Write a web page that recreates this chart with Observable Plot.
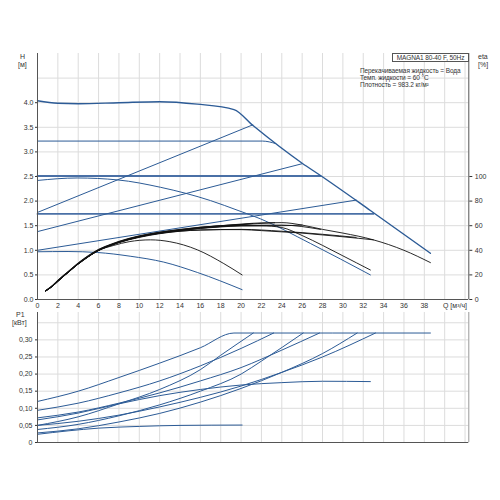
<!DOCTYPE html>
<html><head><meta charset="utf-8">
<script src="https://cdn.jsdelivr.net/npm/d3@7"></script>
<script src="https://cdn.jsdelivr.net/npm/@observablehq/plot@0.6"></script>
<style>
body{margin:0;background:#fff;}
#wrap{position:relative;width:500px;height:500px;font-family:"Liberation Sans",Arial,sans-serif;color:#333;}
#wrap svg{position:absolute;left:0;}
.lbl{position:absolute;font-size:7px;line-height:8px;white-space:nowrap;}
.sm{font-size:6.5px;letter-spacing:-0.1px;}
</style></head><body><div id="wrap"></div>
<script>
// ---- tick labels / grids ----
const qTickLabels = [0,2,4,6,8,10,12,14,16,18,20,22,24,26,28,30,32,34,36,38];
const qGrid = [2,4,6,8,10,12,14,16,18,20,22,24,26,28,30,32,34,36,38,40,42];
const hTicks = [0,0.5,1,1.5,2,2.5,3,3.5,4];
const hGrid = [0.5,1,1.5,2,2.5,3,3.5,4,4.5];
const etaTicks = [0,20,40,60,80,100];
const pTicks = [0,0.05,0.10,0.15,0.20,0.25,0.30];
const pGrid = [0.05,0.10,0.15,0.20,0.25,0.30,0.35];

// ---- Q-H curves (Q m3/h, H m) ----
const hMax = [[0,4.04],[2,3.99],[4,3.98],[8,4.0],[12,4.02],[15.7,3.97],[19.3,3.86],[21.2,3.53],[26,2.77],[27.8,2.52],[32.7,1.81],[38.6,0.94]];
const hConst322 = [[0,3.22],[22.1,3.22],[23.4,3.17]];
const hConst25 = [[0,2.51],[27.8,2.51]];
const hConst175 = [[0,1.74],[33,1.74]];
const hProp1 = [[0,1.77],[21.15,3.55]];
const hProp2 = [[0,1.38],[26,2.76]];
const hProp3 = [[0,1.0],[31.3,2.02]];
const hCurve1 = [[0,2.42],[3.9,2.47],[7.9,2.43],[12.1,2.28],[17,2.01],[19.7,1.81],[21.9,1.64],[26.8,1.14],[32.7,0.5]];
const hCurve0 = [[0,0.97],[3,0.975],[5.9,0.955],[9.1,0.88],[12.4,0.76],[15.7,0.55],[20.1,0.2]];

// ---- efficiency curves (Q, eta %) ----
const etaMax = [[0.8,7],[1.5,11.5],[2,15.5],[3,22.5],[4,29.5],[5,35.5],[6,40.5],[7,44],[8,47],[10,51.5],[12,54.5],[14,56.5],[16,58.5],[18,60],[20,61.3],[22,62.3],[24,62.5],[26,60.5],[28,57],[30,54],[33,48.5],[36,40],[38.6,30]];
const etaC1 = [[0.8,7],[1.5,11],[2,15],[3,22],[4,29],[5,35],[6,40],[7,43.5],[8,46.5],[10,51],[12,54],[14,56],[16,58],[18,59.3],[20,60],[22,60],[24,58.5],[26,52],[28,44],[30,35.5],[32.7,24]];
const etaC322 = [[0.8,7.3],[1.5,11.8],[2,15.8],[3,22.8],[4,29.8],[5,35.8],[6,40.8],[7,44.3],[8,47.3],[10,51.8],[12,54.8],[14,57],[16,58.8],[18,60],[20,61],[23.3,62.4]];
const etaP1 = [[0.8,6.8],[1.5,11],[2,15],[3,22],[4,29],[5,35],[6,40],[7,43.8],[8,46.8],[10,51.3],[12,54.5],[14,56.8],[16,58.7],[18,60],[20,60.8],[21.15,61.8]];
const etaC25 = [[0.8,7],[1.5,11.2],[2,15.2],[3,22.2],[4,29.2],[5,35.2],[6,40.2],[7,43.7],[8,46.7],[10,51],[12,54],[14,56.2],[16,58],[18,59.4],[20,60.3],[24,60.5],[27.8,57]];
const etaP2 = [[0.8,7],[1.5,11],[2,15],[3,22],[4,29],[5,35],[6,40],[7,43.5],[8,46.5],[10,51],[12,54],[14,56],[16,57.8],[18,59],[20,59.8],[24,60],[26,60.5]];
const etaC175 = [[0.8,7],[1.5,11],[2,14.8],[3,21.8],[4,28.8],[5,34.8],[6,39.8],[7,43.3],[8,46.2],[10,50.5],[12,53.5],[14,55.5],[16,56.5],[18,56.8],[20,56.8],[22,56],[24,55],[26,54],[28,52.5],[30,51],[33,48.5]];
const etaP3 = [[0.8,7],[1.5,11],[2,15],[3,22],[4,29],[5,35],[6,40],[7,43.5],[8,46.5],[10,50.8],[12,53.8],[14,55.6],[16,56.5],[20,57],[24,55.5],[28,53],[31.3,50.5]];
const etaC0 = [[0.8,7.3],[1.8,13],[3.5,26],[4.2,30],[5.9,39.5],[7.5,44],[9,47],[11.1,48.5],[13,47],[15.7,40.4],[18.3,29.2],[20.1,20]];

// ---- power curves (Q, P1 kW) ----
const pMax = [[0,0.12],[4,0.15],[8,0.19],[12,0.232],[16,0.277],[19.3,0.32],[38.6,0.32]];
const pConst322 = [[0,0.094],[4,0.115],[8,0.145],[12,0.18],[16,0.224],[20,0.275],[23.2,0.32]];
const pConst25 = [[0,0.072],[4,0.089],[8,0.115],[12,0.145],[16,0.18],[20,0.219],[24,0.27],[27.7,0.32]];
const pCurve1 = [[0,0.066],[4,0.086],[8,0.113],[12,0.137],[16,0.155],[20,0.168],[24,0.175],[28,0.179],[32.7,0.178]];
const pProp1 = [[0,0.05],[4,0.075],[8,0.113],[12,0.155],[16,0.213],[18,0.255],[21.2,0.32]];
const pConst175 = [[0,0.05],[4,0.062],[8,0.08],[12,0.104],[16,0.132],[20,0.165],[24,0.205],[28,0.25],[33.2,0.32]];
const pProp2 = [[0,0.038],[4,0.053],[8,0.078],[12,0.11],[16,0.15],[20,0.2],[22,0.238],[26.1,0.32]];
const pProp3 = [[0,0.028],[4,0.04],[8,0.06],[12,0.085],[16,0.118],[20,0.158],[24,0.205],[28,0.26],[31.4,0.32]];
const pCurve0 = [[0,0.024],[3,0.034],[6,0.042],[10,0.047],[14,0.05],[20.1,0.051]];

const QMAX = 42.37;
const rows = (name, arr) => arr.map(([q, v]) => ({name, q, v}));
const cat = obj => Object.entries(obj).flatMap(([k, a]) => rows(k, a));

const blueThin = cat({hConst322, hProp1, hProp2, hProp3, hCurve1, hCurve0});
const blueWide = cat({hConst25, hConst175});
const blueMax = rows("max", hMax);
const etaRows = cat({etaMax, etaC1, etaC322, etaP1, etaC25, etaP2, etaC175, etaP3, etaC0});
const powRows = cat({pMax, pConst322, pConst25, pCurve1, pProp1, pConst175, pProp2, pProp3, pCurve0});

const BLUE = "#2c5b96";
const GRID = "#dcdcdc";
const AX = "#555";
const plotStyle = {fontSize: "7px", fontFamily: "Liberation Sans, Arial, sans-serif", color: "#333", background: "transparent", overflow: "visible"};

const plotTop = Plot.plot({
  width: 500, height: 318,
  marginLeft: 37, marginRight: 500 - 468.3, marginTop: 53, marginBottom: 19,
  style: plotStyle,
  x: {domain: [0, QMAX], axis: null},
  y: {domain: [0, 5], axis: null},
  marks: [
    Plot.ruleX(qGrid, {stroke: GRID}),
    Plot.ruleY(hGrid, {stroke: GRID}),
    Plot.line(blueWide, {x: "q", y: "v", z: "name", stroke: "#4a70a6", strokeWidth: 1.8}),
    Plot.line(blueThin, {x: "q", y: "v", z: "name", stroke: BLUE, strokeWidth: 1, curve: "monotone-x"}),
    Plot.line(blueMax, {x: "q", y: "v", stroke: BLUE, strokeWidth: 1.4, curve: "monotone-x"}),
    Plot.line(etaRows, {x: "q", y: d => d.v / 40, z: "name", stroke: "#111", strokeWidth: 0.9, curve: "monotone-x"}),
    Plot.ruleX([0], {stroke: AX}),
    Plot.ruleX([QMAX], {stroke: AX}),
    Plot.ruleY([0], {stroke: AX}),
    Plot.axisX(qTickLabels, {tickSize: 0, tickPadding: 4, label: null, tickFormat: d => d}),
    Plot.axisY(hTicks, {tickSize: 2, tickPadding: 2, label: null, tickFormat: d3.format(".1f")}),
    Plot.axisY(etaTicks.map(e => e / 40), {anchor: "right", tickSize: 3, tickPadding: 3, label: null, tickFormat: d => Math.round(d * 40)})
  ]
});
plotTop.style.top = "0px";

const plotBottom = Plot.plot({
  width: 500, height: 150,
  marginLeft: 37, marginRight: 500 - 468.3, marginTop: 12, marginBottom: 8,
  style: plotStyle,
  x: {domain: [0, QMAX], axis: null},
  y: {domain: [0, 0.38], axis: null},
  marks: [
    Plot.ruleX(qGrid, {stroke: GRID}),
    Plot.ruleY(pGrid, {stroke: GRID}),
    Plot.line(powRows, {x: "q", y: "v", z: "name", stroke: BLUE, strokeWidth: 1, curve: "monotone-x"}),
    Plot.ruleX([0], {stroke: AX}),
    Plot.ruleX([QMAX], {stroke: "#999"}),
    Plot.ruleY([0], {stroke: AX}),
    Plot.axisY(pTicks, {tickSize: 2, tickPadding: 3, label: null, tickFormat: d => d === 0 ? "0" : d3.format(".2f")(d).replace(".", ",")})
  ]
});
plotBottom.style.top = "300px";

const wrap = document.getElementById("wrap");
wrap.appendChild(plotTop);
wrap.appendChild(plotBottom);

const labels = [
  {t: "H", x: 20, y: 53}, {t: "[м]", x: 18, y: 61},
  {t: "eta", x: 478, y: 53}, {t: "[%]", x: 478, y: 61},
  {t: "P1", x: 16, y: 311}, {t: "[кВт]", x: 12, y: 319},
  {t: "Перекачиваемая жидкость = Вода", x: 360, y: 67, c: "sm"},
  {t: "Темп. жидкости = 60 °C", x: 360, y: 74, c: "sm"},
  {t: "Плотность = 983.2 кг/м²", x: 360, y: 81, c: "sm"}
];
for (const l of labels) {
  const d = document.createElement("div");
  d.className = "lbl" + (l.c ? " " + l.c : ""); d.textContent = l.t;
  d.style.left = l.x + "px"; d.style.top = l.y + "px";
  wrap.appendChild(d);
}
const qLbl = document.createElement("div");
qLbl.className = "lbl"; qLbl.textContent = "Q [м³/ч]";
qLbl.style.right = "33px"; qLbl.style.top = "302px";
wrap.appendChild(qLbl);
const box = document.createElement("div");
box.className = "lbl sm"; box.textContent = "MAGNA1 80-40 F, 50Hz";
Object.assign(box.style, {left: "392px", top: "53px", width: "77px", height: "9px", border: "1px solid #555", textAlign: "center", boxSizing: "border-box", lineHeight: "7px", background: "#fff", overflow: "hidden"});
wrap.appendChild(box);
</script></body></html>
